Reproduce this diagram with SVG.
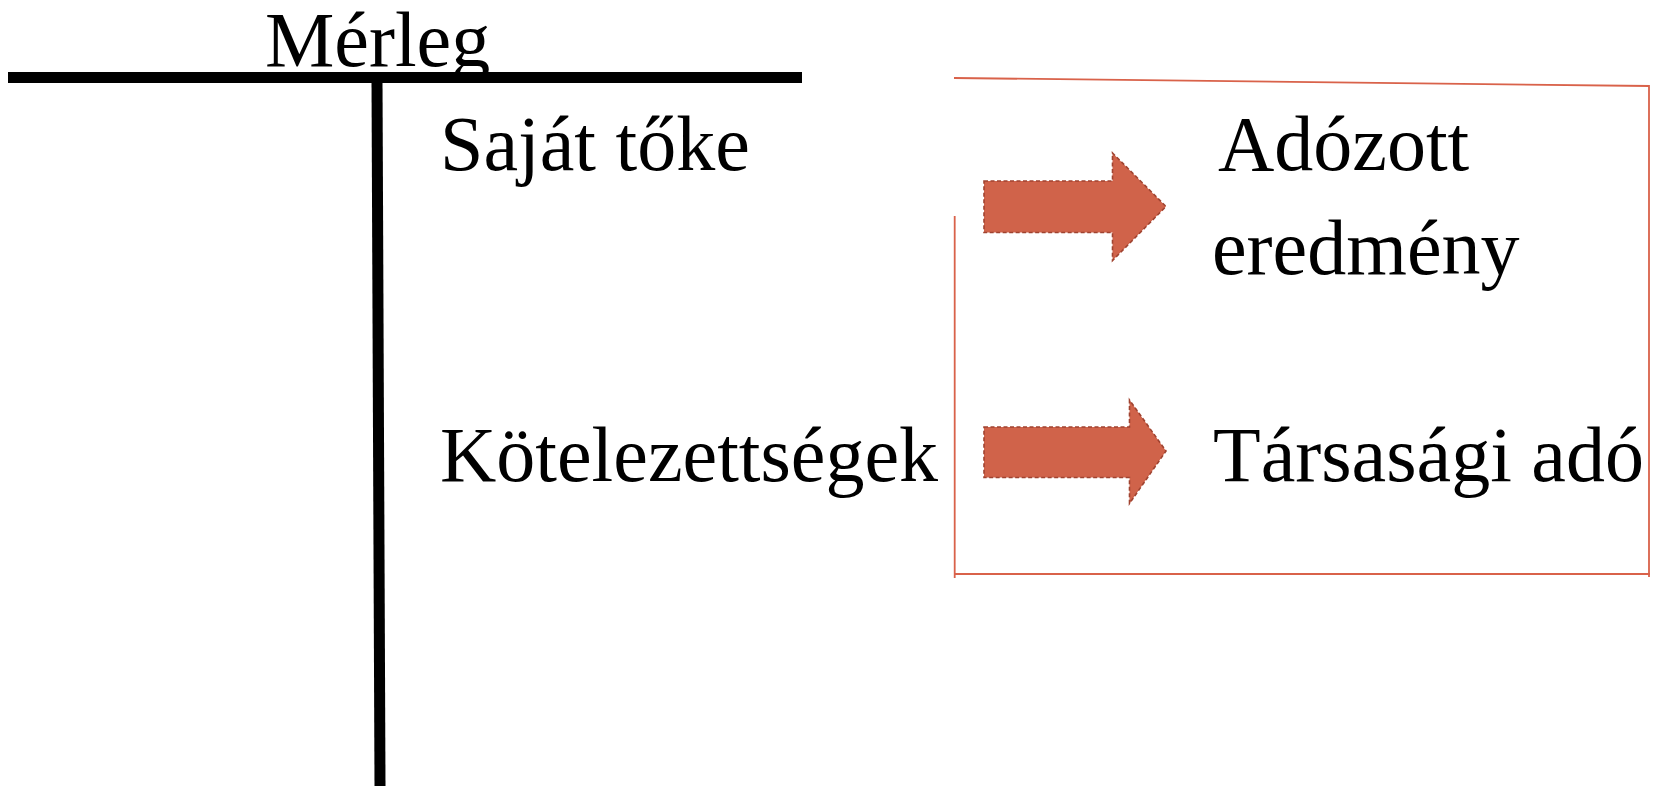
<svg xmlns="http://www.w3.org/2000/svg" width="1664" height="786" viewBox="0 0 1664 786">
  <style>
    .t { font-family: "Liberation Serif", "Times New Roman", serif; font-size: 78px; fill: #000; }
    .bar { stroke: #000; stroke-width: 11; fill: none; }
    .box { stroke: #d9624a; stroke-width: 1.8; fill: none; }
    .arrow { fill: #d0634a; stroke: #a04330; stroke-width: 1.6; stroke-dasharray: 4 2.5; }
  </style>
  <rect width="1664" height="786" fill="#fff"/>
  <g id="t-account">
    <line class="bar" x1="8" y1="77.5" x2="802" y2="77.5"/>
    <line class="bar" x1="377" y1="80" x2="380" y2="786"/>
    <text class="t" x="265" y="66" font-size="77">Mérleg</text>
  </g>
  <g id="node-sajat-toke">
    <text class="t" x="440" y="170">Saját tőke</text>
  </g>
  <g id="node-kotelezettsegek">
    <text class="t" x="440" y="481">Kötelezettségek</text>
  </g>
  <g id="node-box">
    <polyline class="box" points="954,78 1649,86 1649,577"/>
    <line class="box" x1="954" y1="574" x2="1650" y2="574"/>
    <line class="box" x1="954.7" y1="216" x2="954.7" y2="578"/>
  </g>
  <g id="node-adozott">
    <text class="t" x="1218" y="170">Adózott</text>
    <text class="t" x="1212" y="274">eredmény</text>
  </g>
  <g id="node-tarsasagi">
    <text class="t" x="1213" y="481">Társasági adó</text>
  </g>
  <g id="connectors">
    <polygon class="arrow" points="984,181 1112.5,181 1112.5,153 1166,206.5 1112.5,260.5 1112.5,232.5 984,232.5"/>
    <polygon class="arrow" points="984,427 1129.5,427 1129.5,400 1166,451 1129.5,503.5 1129.5,477.5 984,477.5"/>
  </g>
</svg>
